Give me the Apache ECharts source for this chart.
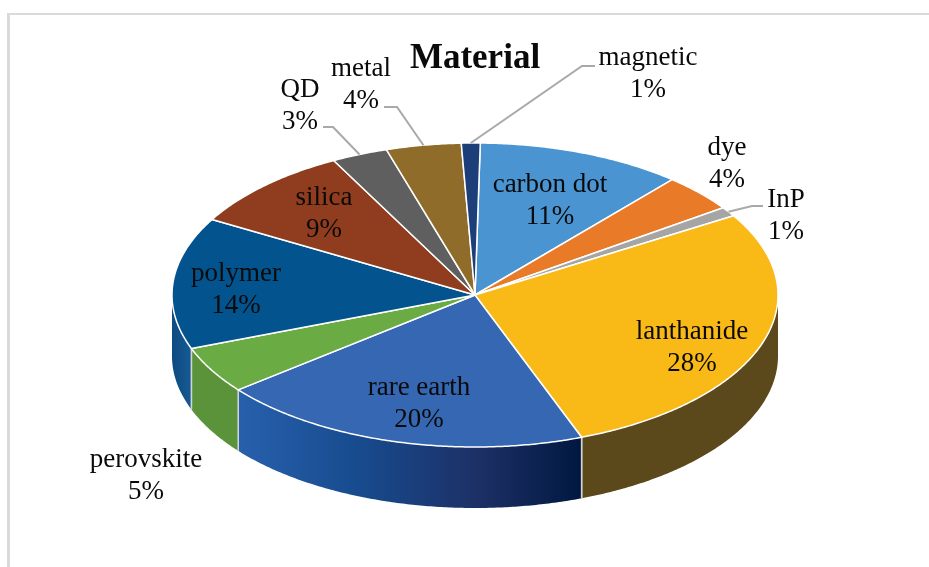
<!DOCTYPE html>
<html>
<head>
<meta charset="utf-8">
<style>
  html, body { margin: 0; padding: 0; background: #fff; }
  #chart { width: 929px; height: 567px; }
</style>
<script src="https://cdn.jsdelivr.net/npm/echarts@6/dist/echarts.min.js"></script>
</head>
<body>
<div id="chart"></div>
<script>
// Share of each material, clockwise from the top of the pie
var materials = ['carbon dot', 'dye', 'InP', 'lanthanide', 'rare earth', 'perovskite', 'polymer', 'silica', 'QD', 'metal', 'magnetic'];
var shares = [11, 4, 1, 28, 20, 5, 14, 9, 3, 4, 1];

var faceColors = ['#4a94d2', '#e97a27', '#a5a5a5', '#f9b916', '#3567b3', '#6aab44', '#03548e', '#8f3d1e', '#5f5f5f', '#8f6c2a', '#1d3f79'];
var sideFills = {
  3: '#5b491b',
  4: {
    type: 'linear', x: 0, y: 0, x2: 1, y2: 0,
    colorStops: [
      { offset: 0, color: '#2860ad' },
      { offset: 0.35, color: '#174b8e' },
      { offset: 0.7, color: '#1d3066' },
      { offset: 1, color: '#001840' }
    ]
  },
  5: '#5a9339',
  6: {
    type: 'linear', x: 0, y: 0, x2: 1, y2: 0,
    colorStops: [{ offset: 0, color: '#0e4a80' }, { offset: 1, color: '#165a94' }]
  }
};

// Label block centres, in pixels
var labelAnchors = [[550, 201], [727, 164], [786, 216], [692, 348], [419, 404], [146, 476], [236, 290], [324, 214], [300, 106], [361, 85], [648, 74]];
// Elbow and free end of the leader lines, by slice index
var leaders = {
  2: [[752, 206], [763, 206]],
  8: [[333, 127], [323, 127]],
  9: [[397, 107], [384, 107]],
  10: [[582, 66], [595, 66]]
};

// Projected pie: an ellipse lying flat, with a wall hanging below it
var cx = 475, cy = 295, rx = 303, ry = 152, depth = 61, firstAngle = 1;
var total = shares.reduce(function (a, b) { return a + b; }, 0);

function startDeg(i) {
  var before = 0;
  for (var k = 0; k < i; k++) before += shares[k];
  return firstAngle + before / total * 360;
}
function rimPoint(deg, drop) {
  var t = deg * Math.PI / 180;
  return [cx + rx * Math.sin(t), cy - ry * Math.cos(t) + (drop || 0)];
}
function arcPoints(from, to, drop) {
  var pts = [];
  var n = Math.max(2, Math.ceil((to - from) * 2));
  for (var j = 0; j <= n; j++) pts.push(rimPoint(from + (to - from) * j / n, drop));
  return pts;
}

function renderFace(params, api) {
  var i = params.dataIndex;
  var a0 = startDeg(i);
  var a1 = a0 + api.value(1) / total * 360;
  return {
    type: 'polygon',
    shape: { points: [[cx, cy]].concat(arcPoints(a0, a1)) },
    style: { fill: faceColors[i], stroke: '#ffffff', lineWidth: 1.5, lineJoin: 'round' }
  };
}

function renderSide(params, api) {
  var i = params.dataIndex;
  var a0 = startDeg(i);
  var a1 = a0 + api.value(1) / total * 360;
  var from = Math.max(a0, 90), to = Math.min(a1, 270);
  if (to <= from) return { type: 'group', children: [] };
  var top = arcPoints(from, to);
  var bottom = arcPoints(from, to, depth).reverse();
  var children = [{
    type: 'polygon',
    shape: { points: top.concat(bottom) },
    style: { fill: sideFills[i] }
  }];
  [[a0, from], [a1, to]].forEach(function (pair) {
    if (pair[0] === pair[1]) {
      var p = rimPoint(pair[0]);
      children.push({
        type: 'line',
        shape: { x1: p[0], y1: p[1], x2: p[0], y2: p[1] + depth },
        style: { stroke: '#d4d4d4', lineWidth: 1.5 }
      });
    }
  });
  return { type: 'group', children: children };
}

function renderLabel(params, api) {
  var i = params.dataIndex;
  var at = labelAnchors[i];
  var children = [];
  if (leaders[i]) {
    var mid = startDeg(i) + api.value(1) / total * 180;
    children.push({
      type: 'polyline',
      shape: { points: [rimPoint(mid)].concat(leaders[i]) },
      style: { stroke: '#a9a9a9', lineWidth: 2, fill: null }
    });
  }
  children.push({
    type: 'text',
    style: {
      x: at[0], y: at[1],
      text: api.value(0) + '\n' + api.value(1) + '%',
      fill: '#0a0a0a',
      font: '27px "Liberation Serif"',
      lineHeight: 32,
      align: 'center',
      verticalAlign: 'middle'
    }
  });
  return { type: 'group', children: children };
}

var rows = materials.map(function (name, i) { return [name, shares[i]]; });
var dimensions = [{ name: 'material', type: 'ordinal' }, { name: 'share', type: 'number' }];

function pieLayer(name, render, z) {
  return {
    type: 'custom', name: name, coordinateSystem: 'none', data: rows, dimensions: dimensions,
    renderItem: render, z: z, silent: true, animation: false
  };
}

var chart = echarts.init(document.getElementById('chart'), null, { renderer: 'canvas' });
chart.setOption({
  backgroundColor: '#ffffff',
  animation: false,
  title: {
    text: 'Material', left: 470, top: 36, textAlign: 'center',
    textStyle: { fontFamily: 'Liberation Serif', fontWeight: 'bold', fontSize: 35, color: '#0a0a0a' }
  },
  // Light frame along the top and left edges
  graphic: [
    { type: 'rect', silent: true, shape: { x: 7, y: 13, width: 922, height: 2 }, style: { fill: '#dadada' } },
    { type: 'rect', silent: true, shape: { x: 7, y: 13, width: 3, height: 554 }, style: { fill: '#dadada' } }
  ],
  series: [
    pieLayer('sides', renderSide, 1),
    pieLayer('faces', renderFace, 2),
    pieLayer('labels', renderLabel, 3)
  ]
});
</script>
</body>
</html>
